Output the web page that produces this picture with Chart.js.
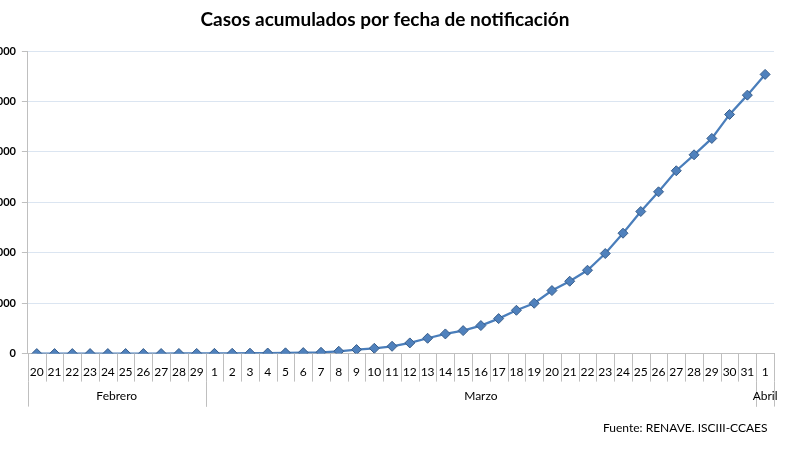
<!DOCTYPE html>
<html>
<head>
<meta charset="utf-8">
<script src="https://cdn.jsdelivr.net/npm/chart.js@4.4.1/dist/chart.umd.min.js"></script>
<style>
  html, body { margin: 0; padding: 0; background: #fff; overflow: hidden; }
  #wrap { position: absolute; left: -30px; top: 0; width: 830px; height: 450px; }
</style>
</head>
<body>
<div id="wrap"><canvas id="chart"></canvas></div>
<script>
// day labels (Feb 20 .. Apr 1)
var dayLabels = ['20','21','22','23','24','25','26','27','28','29',
  '1','2','3','4','5','6','7','8','9','10','11','12','13','14','15','16','17','18','19','20',
  '21','22','23','24','25','26','27','28','29','30','31',
  '1'];
var monthLabels = ['Febrero', 'Marzo', 'Abril'];
var monthSpans = [10, 31, 1];

// cumulative cases by notification date
var cases = [2, 3, 4, 5, 7, 9, 12, 16, 22, 30,
  45, 60, 80, 110, 150, 200, 260, 460, 800, 1050, 1450, 2120, 3040, 3900, 4560, 5560,
  6940, 8590, 9980, 12500, 14350, 16530, 19840, 23870, 28170, 32080, 36250, 39420,
  42660, 47420, 51250,
  55360];

var yTicks = [0, 10000, 20000, 30000, 40000, 50000, 60000];

var titleText = 'Casos acumulados por fecha de notificación';
var sourceText = 'Fuente: RENAVE. ISCIII-CCAES';

var baseFont = 'Lato, "Liberation Sans", sans-serif';

// title, category separators, second row with month groups, and source note
var decorations = {
  id: 'decorations',
  afterDraw: function(chart) {
    var ctx = chart.ctx;
    var xs = chart.scales.x;
    var area = chart.chartArea;
    var half = (xs.getPixelForValue(1) - xs.getPixelForValue(0)) / 2;
    ctx.save();
    ctx.fillStyle = '#000';
    ctx.textBaseline = 'middle';
    ctx.textAlign = 'center';
    ctx.font = 'bold 19px ' + baseFont;
    ctx.fillText(titleText, chart.width / 2, 20);

    ctx.strokeStyle = '#bfbfbf';
    ctx.lineWidth = 1;
    for (var i = 0; i <= dayLabels.length; i++) {
      var px = Math.round(xs.getPixelForValue(i) - half) + 0.5;
      ctx.beginPath();
      ctx.moveTo(px, area.bottom);
      ctx.lineTo(px, area.bottom + 28);
      ctx.stroke();
    }
    ctx.font = '12px ' + baseFont;
    var start = 0;
    for (var m = 0; m < monthLabels.length; m++) {
      var end = start + monthSpans[m] - 1;
      var x0 = xs.getPixelForValue(start) - half;
      var x1 = xs.getPixelForValue(end) + half;
      [x0, x1].forEach(function(x) {
        var gx = Math.round(x) + 0.5;
        ctx.beginPath();
        ctx.moveTo(gx, area.bottom + 28);
        ctx.lineTo(gx, area.bottom + 53);
        ctx.stroke();
      });
      ctx.fillText(monthLabels[m], (x0 + x1) / 2, area.bottom + 43);
      start = end + 1;
    }
    ctx.textAlign = 'left';
    ctx.fillText(sourceText, 633, 428);
    ctx.restore();
  }
};

new Chart(document.getElementById('chart'), {
  type: 'line',
  data: {
    labels: dayLabels,
    datasets: [{
      label: 'Casos acumulados',
      data: cases,
      borderColor: '#4a7ebb',
      borderWidth: 2.25,
      backgroundColor: '#4f81bd',
      pointStyle: 'rectRot',
      pointRadius: 5,
      pointBorderColor: '#385d8a',
      pointBorderWidth: 1,
      pointBackgroundColor: '#4f81bd',
      tension: 0,
      fill: false
    }]
  },
  options: {
    responsive: true,
    maintainAspectRatio: false,
    animation: false,
    layout: { padding: { left: 8, right: 26, top: 51, bottom: 60 } },
    plugins: {
      legend: { display: false },
      tooltip: { enabled: false },
      title: { display: false }
    },
    scales: {
      x: {
        offset: true,
        border: { color: '#bfbfbf' },
        grid: {
          offset: true,
          drawOnChartArea: false,
          drawTicks: false,
          tickLength: 0
        },
        ticks: {
          color: '#000',
          autoSkip: false,
          maxRotation: 0,
          padding: 11,
          font: { family: baseFont, size: 12 }
        }
      },
      y: {
        min: 0,
        max: 60000,
        afterBuildTicks: function(axis) {
          axis.ticks = yTicks.map(function(v) { return { value: v }; });
        },
        border: { color: '#bfbfbf' },
        grid: {
          color: '#dbe5f1',
          tickColor: '#bfbfbf',
          tickLength: 6
        },
        ticks: {
          color: '#000',
          padding: 6,
          font: { family: baseFont, size: 11, weight: 'bold' },
          callback: function(v) { return String(v); }
        }
      }
    }
  },
  plugins: [decorations]
});
</script>
</body>
</html>
